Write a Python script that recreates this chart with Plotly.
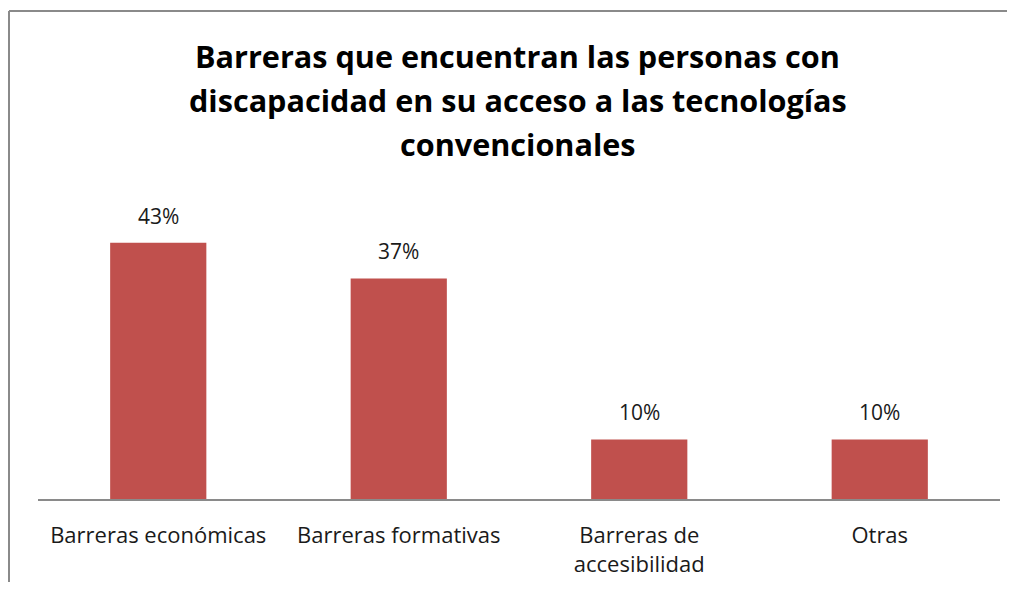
import plotly.graph_objects as go

categories = ["Barreras económicas", "Barreras formativas", "Barreras de<br>accesibilidad", "Otras"]
values = [0.43, 0.37, 0.10, 0.10]
labels = ["43%", "37%", "10%", "10%"]

title_lines = [
    "Barreras que encuentran las personas con",
    "discapacidad en su acceso a las tecnologías",
    "convencionales",
]

# page body has an 8px margin; figure coordinates are screen minus 8
W, H = 1007, 574
L, R, T, B = 30, 15, 193, 83
pw, ph = W - L - R, H - T - B
FONT = "Open Sans"

def px(x):
    return (x - L) / pw

def py(y):
    return (H - B - y) / ph

fig = go.Figure()
fig.add_trace(go.Bar(
    x=categories, y=values,
    marker=dict(color="#C0504D", line=dict(width=0)),
    width=0.4,
))

for c, v, t in zip(categories, values, labels):
    fig.add_annotation(x=c, y=v, text=t, showarrow=False, yanchor="bottom",
                       yshift=11, font=dict(family=FONT, size=21, color="#1a1a1a"))

# title, one annotation per line for exact line spacing
for i, line in enumerate(title_lines):
    fig.add_annotation(xref="paper", yref="paper", x=px(509.5), y=py(48 + 44 * i),
                       text=line, showarrow=False, xanchor="center", yanchor="middle",
                       font=dict(family=FONT, size=30.6, color="#000000", weight="bold"))

# outer chart border (left and top edges visible)
border = dict(color="#8a8a8a", width=2)
fig.add_shape(type="line", xref="paper", yref="paper",
              x0=px(1), x1=px(1), y0=py(3), y1=py(H + 10), line=border)
fig.add_shape(type="line", xref="paper", yref="paper",
              x0=px(1), x1=px(W + 10), y0=py(3), y1=py(3), line=border)

fig.update_layout(
    width=W, height=H,
    margin=dict(l=L, r=R, t=T, b=B, autoexpand=False),
    paper_bgcolor="white", plot_bgcolor="white",
    showlegend=False,
    font=dict(family=FONT, size=22, color="#1a1a1a"),
    xaxis=dict(showline=True, linecolor="#8a8a8a", linewidth=1.5,
               ticks="", showgrid=False, tickfont=dict(size=22),
               ticklabelstandoff=16, automargin=False),
    yaxis=dict(range=[0, 0.5], visible=False, showgrid=False, zeroline=False,
               automargin=False),
)

fig.write_html("out.html", config={"displayModeBar": False},
               post_script="document.documentElement.style.overflow='hidden';")
